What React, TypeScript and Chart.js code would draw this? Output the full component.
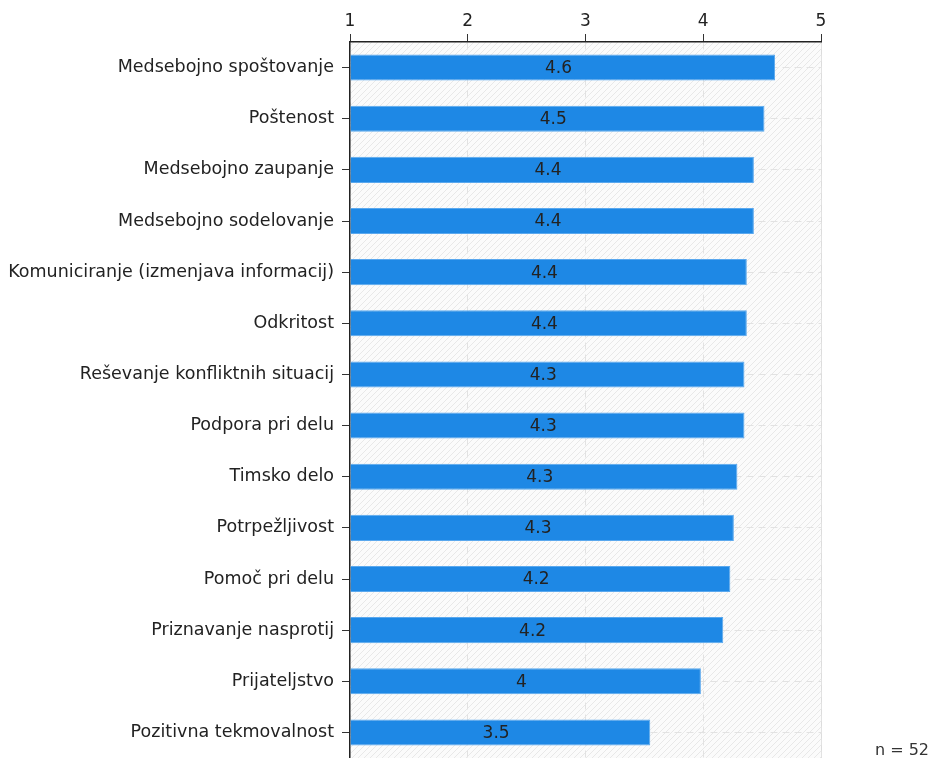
import React, { useEffect, useRef } from "react";
import { Chart, registerables } from "chart.js";

Chart.register(...registerables);

const categories = [
  "Medsebojno spoštovanje",
  "Poštenost",
  "Medsebojno zaupanje",
  "Medsebojno sodelovanje",
  "Komuniciranje (izmenjava informacij)",
  "Odkritost",
  "Reševanje konfliktnih situacij",
  "Podpora pri delu",
  "Timsko delo",
  "Potrpežljivost",
  "Pomoč pri delu",
  "Priznavanje nasprotij",
  "Prijateljstvo",
  "Pozitivna tekmovalnost",
];
const values = [4.61, 4.52, 4.43, 4.43, 4.37, 4.37, 4.35, 4.35, 4.29, 4.26, 4.23, 4.17, 3.98, 3.55];
const valueLabels = ["4.6", "4.5", "4.4", "4.4", "4.4", "4.4", "4.3", "4.3", "4.3", "4.3", "4.2", "4.2", "4", "3.5"];
const xTicks = [1, 2, 3, 4, 5];
const sampleNote = "n = 52";

const FONT = "'DejaVu Sans', Verdana, sans-serif";

export default function App() {
  const ref = useRef<HTMLCanvasElement | null>(null);
  useEffect(() => {
    const canvas = ref.current!;
    const hatch = document.createElement("canvas");
    hatch.width = 6;
    hatch.height = 6;
    const hc = hatch.getContext("2d")!;
    hc.fillStyle = "#fbfbfb";
    hc.fillRect(0, 0, 6, 6);
    hc.strokeStyle = "#e8e8e8";
    hc.lineWidth = 1;
    hc.beginPath();
    hc.moveTo(0, 6);
    hc.lineTo(6, 0);
    hc.moveTo(-3, 3);
    hc.lineTo(3, -3);
    hc.moveTo(3, 9);
    hc.lineTo(9, 3);
    hc.stroke();

    const bgPlugin = {
      id: "bg",
      beforeDraw(chart: any) {
        const { ctx, chartArea } = chart;
        const pat = ctx.createPattern(hatch, "repeat");
        ctx.save();
        ctx.fillStyle = pat;
        ctx.fillRect(chartArea.left, chartArea.top, chartArea.right - chartArea.left, chartArea.bottom - chartArea.top);
        ctx.strokeStyle = "#dcdcdc";
        ctx.lineWidth = 1;
        ctx.beginPath();
        ctx.moveTo(chartArea.right + 0.5, chartArea.top);
        ctx.lineTo(chartArea.right + 0.5, chartArea.bottom);
        ctx.stroke();
        ctx.restore();
      },
    };
    const labelPlugin = {
      id: "vlabels",
      afterDatasetsDraw(chart: any) {
        const { ctx } = chart;
        const meta = chart.getDatasetMeta(0);
        ctx.save();
        ctx.font = `17px ${FONT}`;
        ctx.fillStyle = "#222";
        ctx.textAlign = "center";
        ctx.textBaseline = "middle";
        meta.data.forEach((bar: any, i: number) => {
          const left = chart.scales.x.left;
          ctx.fillText(valueLabels[i], (left + bar.x) / 2 - 4, bar.y + 1);
        });
        ctx.font = `16px ${FONT}`;
        ctx.textAlign = "right";
        ctx.fillStyle = "#333";
        ctx.fillText(sampleNote, 929, 751);
        ctx.restore();
      },
    };

    const chart = new Chart(canvas, {
      type: "bar",
      data: {
        labels: categories,
        datasets: [
          {
            data: values,
            base: 1,
            backgroundColor: "#1e88e5",
            borderColor: "#5aa8ee",
            borderWidth: 1,
            barPercentage: 0.51,
            categoryPercentage: 1,
          },
        ],
      },
      options: {
        indexAxis: "y",
        animation: false,
        responsive: false,
        layout: { padding: { left: 0, right: 111, top: 0, bottom: 0 } },
        plugins: { legend: { display: false }, tooltip: { enabled: false } },
        scales: {
          x: {
            position: "top",
            min: 1,
            max: 5,
            afterBuildTicks(scale: any) {
              scale.ticks = xTicks.map((v) => ({ value: v }));
            },
            afterFit(scale: any) {
              scale.height = 42;
              scale.paddingLeft = 0;
              scale.paddingRight = 0;
            },
            ticks: { color: "#222", font: { size: 17, family: FONT }, padding: 2 },
            grid: {
              color: "#e2e2e2",
              tickColor: "#333",
              tickLength: 8,
              lineWidth: 1,
            },
            border: { color: "#222", width: 1.5, dash: [7, 5] },
          },
          y: {
            afterFit(scale: any) {
              scale.width = 350;
              scale.paddingTop = 0;
              scale.paddingBottom = 0;
            },
            ticks: { color: "#222", font: { size: 17.5, family: FONT }, padding: 8 },
            grid: {
              offset: false,
              color: "#e2e2e2",
              tickColor: "#333",
              tickLength: 8,
            },
            border: { color: "#222", width: 1.5, dash: [7, 5] },
          },
        },
      },
      plugins: [bgPlugin, labelPlugin],
    });
    return () => chart.destroy();
  }, []);
  return (
    <div style={{ position: "fixed", left: 0, top: 0, width: 932, height: 758, background: "#fff", overflow: "hidden" }}>
      <canvas ref={ref} width={932} height={758} style={{ display: "block" }} />
    </div>
  );
}
